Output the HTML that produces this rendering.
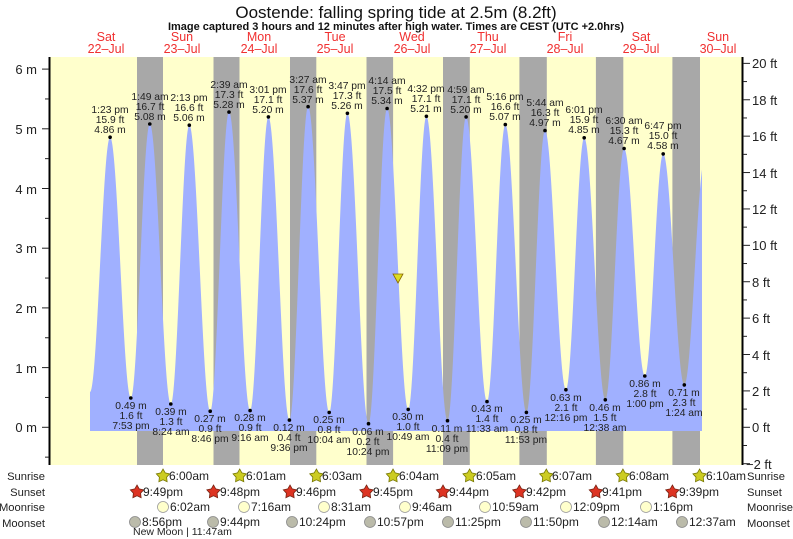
<!DOCTYPE html>
<html><head><meta charset="utf-8"><style>
html,body{margin:0;padding:0;background:#fff;}
svg{display:block;font-family:"Liberation Sans",sans-serif;}
.lb{font-size:10.3px;fill:#222;text-anchor:middle;}
.ax{font-size:13px;fill:#222;}
.rw{font-size:12px;fill:#222;}
.rl{font-size:11.2px;fill:#222;}
.dy{font-size:12.5px;fill:#f03030;text-anchor:middle;}
</style></head><body>
<svg id="s" width="793" height="539" viewBox="0 0 793 539" xmlns="http://www.w3.org/2000/svg">
<defs>
<polygon id="star" points="0,-7 2.23,-3.07 6.66,-2.16 3.61,1.17 4.11,5.66 0,3.8 -4.11,5.66 -3.61,1.17 -6.66,-2.16 -2.23,-3.07"/>
</defs>
<text x="396" y="18" text-anchor="middle" font-size="17" fill="#111">Oostende: falling  spring tide at 2.5m (8.2ft)</text>
<text x="396" y="30" text-anchor="middle" font-size="11" font-weight="bold" fill="#111">Image captured 3 hours and 12 minutes after high water. Times are CEST (UTC +2.0hrs)</text>
<g class="dy">
<text x="106" y="41">Sat</text><text x="106" y="53">22–Jul</text>
<text x="182" y="41">Sun</text><text x="182" y="53">23–Jul</text>
<text x="259" y="41">Mon</text><text x="259" y="53">24–Jul</text>
<text x="335" y="41">Tue</text><text x="335" y="53">25–Jul</text>
<text x="412" y="41">Wed</text><text x="412" y="53">26–Jul</text>
<text x="488" y="41">Thu</text><text x="488" y="53">27–Jul</text>
<text x="565" y="41">Fri</text><text x="565" y="53">28–Jul</text>
<text x="641" y="41">Sat</text><text x="641" y="53">29–Jul</text>
<text x="718" y="41">Sun</text><text x="718" y="53">30–Jul</text>
</g>
<rect x="50" y="57" width="693" height="408" fill="#ffffcc"/>
<g fill="#a8a8a8">
<rect x="137" y="57" width="26" height="408"/>
<rect x="213.5" y="57" width="26" height="408"/>
<rect x="290" y="57" width="26.3" height="408"/>
<rect x="366.5" y="57" width="26.6" height="408"/>
<rect x="443" y="57" width="26.8" height="408"/>
<rect x="519.4" y="57" width="27.4" height="408"/>
<rect x="595.9" y="57" width="27.4" height="408"/>
<rect x="672.4" y="57" width="27.6" height="408"/>
</g>
<path id="tide" fill="#a0b0ff" d=""/>
<line x1="49.5" y1="57" x2="49.5" y2="465" stroke="#000" stroke-width="2"/>
<line x1="742.5" y1="57" x2="742.5" y2="465" stroke="#000" stroke-width="2"/>
<g id="ticks" stroke="#222" stroke-width="1"></g>
<g class="ax" text-anchor="end">
<text x="37" y="74">6 m</text><text x="37" y="134">5 m</text><text x="37" y="194">4 m</text>
<text x="37" y="253">3 m</text><text x="37" y="313">2 m</text><text x="37" y="373">1 m</text><text x="37" y="432">0 m</text>
</g>
<g class="ax">
<text x="752" y="68">20 ft</text><text x="752" y="105">18 ft</text><text x="752" y="141">16 ft</text>
<text x="752" y="178">14 ft</text><text x="752" y="214">12 ft</text><text x="752" y="250">10 ft</text>
<text x="752" y="287">8 ft</text><text x="752" y="323">6 ft</text><text x="752" y="360">4 ft</text>
<text x="752" y="396">2 ft</text><text x="752" y="432">0 ft</text><text x="746" y="469">−2 ft</text>
</g>
<polygon points="393,274 403,274 398,283" fill="#dddd22" stroke="#886600" stroke-width="0.8"/>
<g id="dots" fill="#000"></g>
<g class="lb">
<text x="110" y="113">1:23 pm</text><text x="110" y="123">15.9 ft</text><text x="110" y="133">4.86 m</text>
<text x="131" y="409">0.49 m</text><text x="131" y="419">1.6 ft</text><text x="131" y="429">7:53 pm</text>
<text x="150" y="100">1:49 am</text><text x="150" y="110">16.7 ft</text><text x="150" y="120">5.08 m</text>
<text x="171" y="415">0.39 m</text><text x="171" y="425">1.3 ft</text><text x="171" y="435">8:24 am</text>
<text x="189" y="101">2:13 pm</text><text x="189" y="111">16.6 ft</text><text x="189" y="121">5.06 m</text>
<text x="210" y="422">0.27 m</text><text x="210" y="432">0.9 ft</text><text x="210" y="442">8:46 pm</text>
<text x="229" y="88">2:39 am</text><text x="229" y="98">17.3 ft</text><text x="229" y="108">5.28 m</text>
<text x="250" y="421">0.28 m</text><text x="250" y="431">0.9 ft</text><text x="250" y="441">9:16 am</text>
<text x="268" y="93">3:01 pm</text><text x="268" y="103">17.1 ft</text><text x="268" y="113">5.20 m</text>
<text x="289" y="431">0.12 m</text><text x="289" y="441">0.4 ft</text><text x="289" y="451">9:36 pm</text>
<text x="308" y="83">3:27 am</text><text x="308" y="93">17.6 ft</text><text x="308" y="103">5.37 m</text>
<text x="329" y="423">0.25 m</text><text x="329" y="433">0.8 ft</text><text x="329" y="443">10:04 am</text>
<text x="347" y="89">3:47 pm</text><text x="347" y="99">17.3 ft</text><text x="347" y="109">5.26 m</text>
<text x="368" y="435">0.06 m</text><text x="368" y="445">0.2 ft</text><text x="368" y="455">10:24 pm</text>
<text x="387" y="84">4:14 am</text><text x="387" y="94">17.5 ft</text><text x="387" y="104">5.34 m</text>
<text x="408" y="420">0.30 m</text><text x="408" y="430">1.0 ft</text><text x="408" y="440">10:49 am</text>
<text x="426" y="92">4:32 pm</text><text x="426" y="102">17.1 ft</text><text x="426" y="112">5.21 m</text>
<text x="447" y="432">0.11 m</text><text x="447" y="442">0.4 ft</text><text x="447" y="452">11:09 pm</text>
<text x="466" y="93">4:59 am</text><text x="466" y="103">17.1 ft</text><text x="466" y="113">5.20 m</text>
<text x="487" y="412">0.43 m</text><text x="487" y="422">1.4 ft</text><text x="487" y="432">11:33 am</text>
<text x="505" y="100">5:16 pm</text><text x="505" y="110">16.6 ft</text><text x="505" y="120">5.07 m</text>
<text x="526" y="423">0.25 m</text><text x="526" y="433">0.8 ft</text><text x="526" y="443">11:53 pm</text>
<text x="545" y="106">5:44 am</text><text x="545" y="116">16.3 ft</text><text x="545" y="126">4.97 m</text>
<text x="566" y="401">0.63 m</text><text x="566" y="411">2.1 ft</text><text x="566" y="421">12:16 pm</text>
<text x="584" y="113">6:01 pm</text><text x="584" y="123">15.9 ft</text><text x="584" y="133">4.85 m</text>
<text x="605" y="411">0.46 m</text><text x="605" y="421">1.5 ft</text><text x="605" y="431">12:38 am</text>
<text x="624" y="124">6:30 am</text><text x="624" y="134">15.3 ft</text><text x="624" y="144">4.67 m</text>
<text x="645" y="387">0.86 m</text><text x="645" y="397">2.8 ft</text><text x="645" y="407">1:00 pm</text>
<text x="663" y="129">6:47 pm</text><text x="663" y="139">15.0 ft</text><text x="663" y="149">4.58 m</text>
<text x="684" y="396">0.71 m</text><text x="684" y="406">2.3 ft</text><text x="684" y="416">1:24 am</text>
</g>
<g class="rl" text-anchor="end">
<text x="45" y="480">Sunrise</text><text x="45" y="496">Sunset</text><text x="45" y="511">Moonrise</text><text x="45" y="527">Moonset</text>
</g>
<g class="rl">
<text x="747" y="480">Sunrise</text><text x="747" y="496">Sunset</text><text x="747" y="511">Moonrise</text><text x="747" y="527">Moonset</text>
</g>
<g class="rw" fill="#222">
<g fill="#cccc22" stroke="#777700" stroke-width="0.8">
<use href="#star" x="163" y="476"/><use href="#star" x="239.7" y="476"/><use href="#star" x="316.4" y="476"/><use href="#star" x="393" y="476"/>
<use href="#star" x="469.6" y="476"/><use href="#star" x="546.3" y="476"/><use href="#star" x="622.9" y="476"/><use href="#star" x="699.6" y="476"/>
</g>
<text x="169" y="480">6:00am</text><text x="246" y="480">6:01am</text><text x="322" y="480">6:03am</text><text x="399" y="480">6:04am</text>
<text x="476" y="480">6:05am</text><text x="552" y="480">6:07am</text><text x="629" y="480">6:08am</text><text x="706" y="480">6:10am</text>
<g fill="#dd3322" stroke="#772211" stroke-width="0.8">
<use href="#star" x="137" y="492"/><use href="#star" x="213.5" y="492"/><use href="#star" x="290" y="492"/><use href="#star" x="366.5" y="492"/>
<use href="#star" x="443" y="492"/><use href="#star" x="519.4" y="492"/><use href="#star" x="595.9" y="492"/><use href="#star" x="672.4" y="492"/>
</g>
<text x="143" y="496">9:49pm</text><text x="220" y="496">9:48pm</text><text x="296" y="496">9:46pm</text><text x="373" y="496">9:45pm</text>
<text x="449" y="496">9:44pm</text><text x="526" y="496">9:42pm</text><text x="602" y="496">9:41pm</text><text x="679" y="496">9:39pm</text>
<g fill="#ffffcc" stroke="#999" stroke-width="0.8">
<circle cx="163" cy="507" r="5.5"/><circle cx="244" cy="507" r="5.5"/><circle cx="324" cy="507" r="5.5"/><circle cx="405" cy="507" r="5.5"/>
<circle cx="485" cy="507" r="5.5"/><circle cx="566" cy="507" r="5.5"/><circle cx="646" cy="507" r="5.5"/>
</g>
<text x="170" y="511">6:02am</text><text x="251" y="511">7:16am</text><text x="331" y="511">8:31am</text><text x="412" y="511">9:46am</text>
<text x="492" y="511">10:59am</text><text x="573" y="511">12:09pm</text><text x="653" y="511">1:16pm</text>
<g fill="#bbbbaa" stroke="#888" stroke-width="0.8">
<circle cx="135" cy="522" r="5.5"/><circle cx="213" cy="522" r="5.5"/><circle cx="292" cy="522" r="5.5"/><circle cx="370" cy="522" r="5.5"/>
<circle cx="448" cy="522" r="5.5"/><circle cx="526" cy="522" r="5.5"/><circle cx="604" cy="522" r="5.5"/><circle cx="682" cy="522" r="5.5"/>
</g>
<text x="142" y="526">8:56pm</text><text x="220" y="526">9:44pm</text><text x="299" y="526">10:24pm</text><text x="377" y="526">10:57pm</text>
<text x="455" y="526">11:25pm</text><text x="533" y="526">11:50pm</text><text x="611" y="526">12:14am</text><text x="689" y="526">12:37am</text>
<text x="133" y="535" font-size="10.5">New Moon | 11:47am</text>
</g>
</svg>
<script>
(function(){
var ex=[[90,392],[110.1,137.2],[130.8,398.0],[149.8,124.0],[170.8,404.0],[189.3,125.2],[210.2,411.2],[229.0,112.1],[250.1,410.6],[268.4,116.9],[289.4,420.1],[308.1,106.7],[329.2,412.4],[347.4,113.3],[368.5,423.7],[387.1,108.5],[408.2,409.4],[426.4,116.3],[447.5,420.7],[466.1,116.9],[487.0,401.6],[505.3,124.6],[526.4,412.4],[545.0,130.6],[565.9,389.7],[584.2,137.8],[605.3,399.8],[624.1,148.5],[644.8,376.0],[663.2,153.9],[684.3,384.9],[705,158]];
var d="M90,431 L90,392";
for(var x=90.5;x<=702;x+=0.5){
 var i=0;while(i<ex.length-2&&ex[i+1][0]<x)i++;
 var a=ex[i],b=ex[i+1];var f=(x-a[0])/(b[0]-a[0]);if(f>1)f=1;
 var y=a[1]+(b[1]-a[1])*(1-Math.cos(Math.PI*f))/2;
 d+=" L"+x.toFixed(1)+","+y.toFixed(1);
}
d+=" L702,431 Z";
document.getElementById("tide").setAttribute("d",d);
var t=document.getElementById("ticks"),s="";
for(var m=-0.5;m<=6.01;m+=0.5){var yy=427.3-59.7*m;var L=(Math.abs(m-Math.round(m))<0.01)?7:4;s+='<line x1="'+(49-L)+'" y1="'+yy+'" x2="49" y2="'+yy+'"/>';}
for(var ft=-2;ft<=20;ft++){var yy=427.3-59.7*0.3048*ft;var L=(ft%2==0)?7:4;s+='<line x1="743" y1="'+yy+'" x2="'+(743+L)+'" y2="'+yy+'"/>';}
t.innerHTML=s;
var dg=document.getElementById("dots"),q="";
for(var k=1;k<ex.length-1;k++)q+='<circle cx="'+ex[k][0]+'" cy="'+ex[k][1]+'" r="1.8"/>';
dg.innerHTML=q;
})();
</script>
</body></html>
